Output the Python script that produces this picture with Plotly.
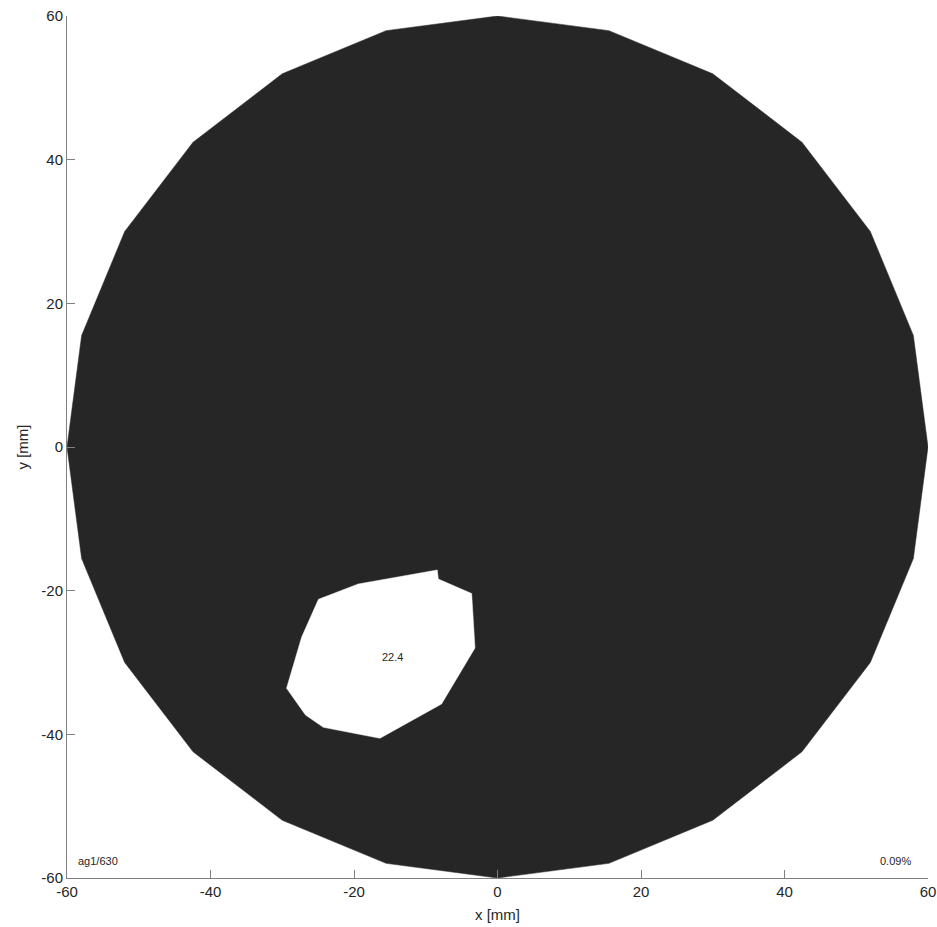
import plotly.graph_objects as go

# Outer section outline (24-gon, radius 60 mm)
outer_x = [60, 57.96, 51.96, 42.43, 30, 15.53, 0, -15.53, -30, -42.43, -51.96, -57.96,
           -60, -57.96, -51.96, -42.43, -30, -15.53, 0, 15.53, 30, 42.43, 51.96, 57.96, 60]
outer_y = [0, 15.53, 30, 42.43, 51.96, 57.96, 60, 57.96, 51.96, 42.43, 30, 15.53,
           0, -15.53, -30, -42.43, -51.96, -57.96, -60, -57.96, -51.96, -42.43, -30, -15.53, 0]

# Hole outline
hole_x = [-24.95, -19.4, -8.39, -8.25, -3.6, -3.14, -7.8, -16.38, -24.28, -26.76, -29.4, -27.29, -24.95]
hole_y = [-21.2, -19.07, -17.12, -18.38, -20.4, -27.98, -35.78, -40.55, -39.02, -37.31, -33.59, -26.45, -21.2]

hole_label = "22.4"
hole_label_pos = (-14.7, -29.2)
corner_left = "ag1/630"
corner_right = "0.09%"

tick_vals = [-60, -40, -20, 0, 20, 40, 60]
tick_text = ["-60", "-40", "-20", "0", "20", "40", "60"]

FONT = "Liberation Sans"

fig = go.Figure()
fig.add_trace(go.Scatter(x=outer_x, y=outer_y, mode="lines", fill="toself",
                         fillcolor="#262626", line=dict(color="#262626", width=0.5),
                         hoverinfo="skip", showlegend=False))
fig.add_trace(go.Scatter(x=hole_x, y=hole_y, mode="lines", fill="toself",
                         fillcolor="white", line=dict(color="white", width=0.5),
                         hoverinfo="skip", showlegend=False))

fig.add_annotation(x=hole_label_pos[0], y=hole_label_pos[1], text=hole_label, showarrow=False,
                   font=dict(family=FONT, size=11, color="#262626"))
fig.add_annotation(x=0.011, y=0.01, xref="paper", yref="paper", text=corner_left, showarrow=False,
                   xanchor="left", yanchor="bottom",
                   font=dict(family=FONT, size=11, color="#262626"))
fig.add_annotation(x=0.982, y=0.01, xref="paper", yref="paper", text=corner_right, showarrow=False,
                   xanchor="right", yanchor="bottom",
                   font=dict(family=FONT, size=11, color="#262626"))

axis_common = dict(range=[-60, 60], tickvals=tick_vals, ticktext=tick_text, ticks="inside", ticklen=8,
                   tickcolor="#808080", tickwidth=1, showline=True, linecolor="#808080",
                   linewidth=1, showgrid=False, zeroline=False, mirror=False, automargin=False,
                   ticklabeloverflow="allow",
                   tickfont=dict(family=FONT, size=15, color="#262626"),
                   title_font=dict(family=FONT, size=15, color="#262626"))

fig.update_xaxes(**axis_common, title_text="x [mm]", title_standoff=10)
fig.update_yaxes(**axis_common, title_text="y [mm]", title_standoff=9)

fig.update_layout(width=937, height=927, plot_bgcolor="white", paper_bgcolor="white",
                  margin=dict(l=67, r=9, t=16, b=49), showlegend=False)

fig.write_html("out.html", config={"displayModeBar": False},
               post_script="document.body.style.margin='0';document.body.style.overflow='hidden';")
